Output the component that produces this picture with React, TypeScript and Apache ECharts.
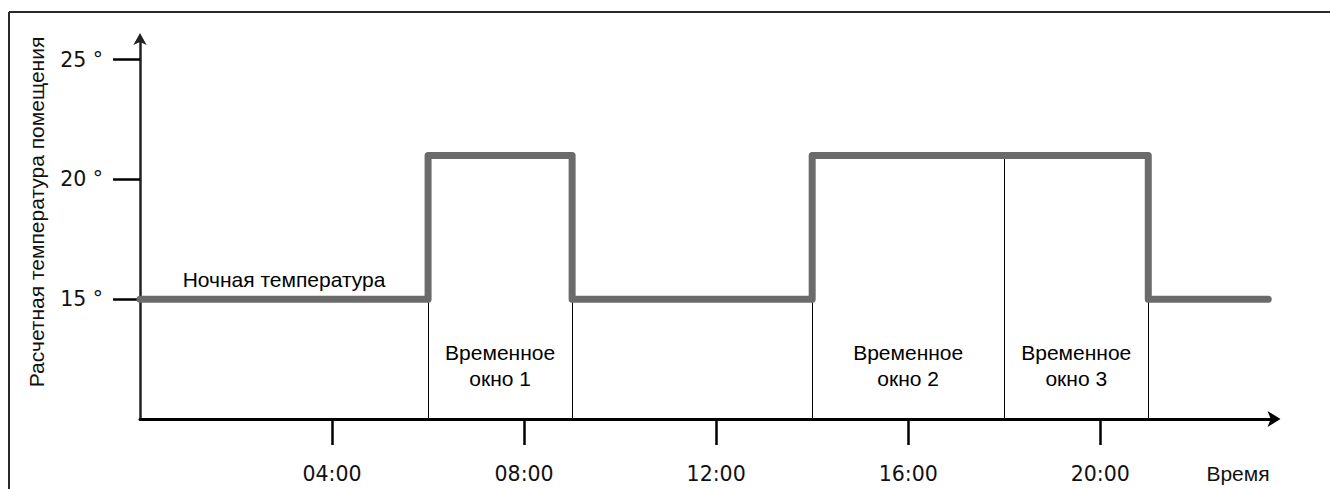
import React, { useEffect, useRef } from "react";
import * as echarts from "echarts";

// Setpoint profile (hour, °C) — step changes
const profileHours = [0, 6, 6, 9, 9, 14, 14, 21, 21, 23.5];
const profileTemps = [15, 15, 21, 21, 15, 15, 21, 21, 15, 15];

// Thin boundaries of the time windows (hour, top temperature)
const edgeHours = [6, 9, 14, 18, 21];
const edgeTops = [15, 15, 15, 21, 15];

// Text annotations (hour, temp, text)
const noteHours = [3, 7.5, 16, 19.5];
const noteTemps = [15.83, 12.25, 12.25, 12.25];
const noteTexts = [
  "Ночная температура",
  "Временное\nокно 1",
  "Временное\nокно 2",
  "Временное\nокно 3",
];

const xTicks = [4, 8, 12, 16, 20];
const yTicks = [15, 20, 25];

const pad2 = (v: number) => (v < 10 ? "0" + v : "" + v);

export default function App() {
  const ref = useRef<HTMLDivElement>(null);
  useEffect(() => {
    if (!ref.current) return;
    const chart = echarts.init(ref.current, null, { renderer: "svg" });
    const helv = "'Liberation Sans', Arial, sans-serif";
    const tickFont = "'DejaVu Sans', sans-serif";
    chart.setOption({
      animation: false,
      backgroundColor: "#ffffff",
      grid: { left: 140, top: 38, right: 54.5, bottom: 70, containLabel: false },
      xAxis: {
        type: "value",
        min: 0,
        max: 23.65,
        splitLine: { show: false },
        axisLine: {
          show: true,
          symbol: ["none", "arrow"],
          symbolSize: [12, 13],
          symbolOffset: [0, 5],
          lineStyle: { color: "#000", width: 3 },
        },
        axisTick: {
          show: true,
          customValues: xTicks,
          length: 26,
          lineStyle: { color: "#000", width: 2.5 },
        },
        axisLabel: {
          show: true,
          customValues: xTicks,
          formatter: (v: number) => pad2(v) + ":00",
          margin: 44,
          fontSize: 20.5,
          fontFamily: tickFont,
          color: "#111",
        },
      },
      yAxis: {
        type: "value",
        min: 10,
        max: 25.9,
        splitLine: { show: false },
        axisLine: {
          show: true,
          symbol: ["none", "arrow"],
          symbolSize: [10, 12],
          symbolOffset: [0, 5],
          lineStyle: { color: "#222", width: 2.5 },
        },
        axisTick: {
          show: true,
          customValues: yTicks,
          length: 27,
          lineStyle: { color: "#000", width: 2.5 },
        },
        axisLabel: {
          show: true,
          customValues: yTicks,
          formatter: (v: number) => v + " °",
          margin: 37,
          fontSize: 20.5,
          fontFamily: tickFont,
          color: "#111",
        },
      },
      series: [
        {
          type: "line",
          name: "edges",
          data: [],
          silent: true,
          markLine: {
            silent: true,
            symbol: ["none", "none"],
            label: { show: false },
            lineStyle: { color: "#000", width: 1, type: "solid" },
            data: edgeHours.map((h, i) => [
              { coord: [h, 10] },
              { coord: [h, edgeTops[i]] },
            ]),
          },
        },
        {
          type: "line",
          name: "setpoint",
          data: profileHours.map((h, i) => [h, profileTemps[i]]),
          symbol: "none",
          z: 5,
          lineStyle: { color: "#6b6b6b", width: 7, cap: "round", join: "round" },
        },
        {
          type: "scatter",
          name: "notes",
          symbolSize: 1,
          itemStyle: { color: "rgba(255,255,255,0)" },
          silent: true,
          data: noteHours.map((h, i) => ({ value: [h, noteTemps[i]], name: noteTexts[i] })),
          label: {
            show: true,
            position: "inside",
            formatter: (p: any) => p.name,
            fontSize: 21,
            lineHeight: 26,
            fontFamily: helv,
            color: "#000",
            opacity: 1,
            align: "center",
          },
        },
      ],
      graphic: [
        { type: "line", shape: { x1: 9, y1: 12, x2: 1330, y2: 12 }, style: { stroke: "#2a2a2a", lineWidth: 2 } },
        { type: "line", shape: { x1: 9, y1: 12, x2: 9, y2: 489 }, style: { stroke: "#2a2a2a", lineWidth: 2 } },
        {
          type: "text",
          x: 36,
          y: 212,
          rotation: Math.PI / 2,
          style: {
            text: "Расчетная температура помещения",
            fontSize: 21,
            fontFamily: helv,
            fill: "#111",
            textAlign: "center",
            textVerticalAlign: "middle",
          },
        },
        {
          type: "text",
          x: 1238,
          y: 473,
          style: {
            text: "Время",
            fontSize: 21,
            fontFamily: helv,
            fill: "#111",
            textAlign: "center",
            textVerticalAlign: "middle",
          },
        },
      ],
    });
    return () => chart.dispose();
  }, []);
  return (
    <div
      ref={ref}
      style={{ position: "fixed", left: 0, top: 0, width: 1330, height: 489 }}
    />
  );
}
